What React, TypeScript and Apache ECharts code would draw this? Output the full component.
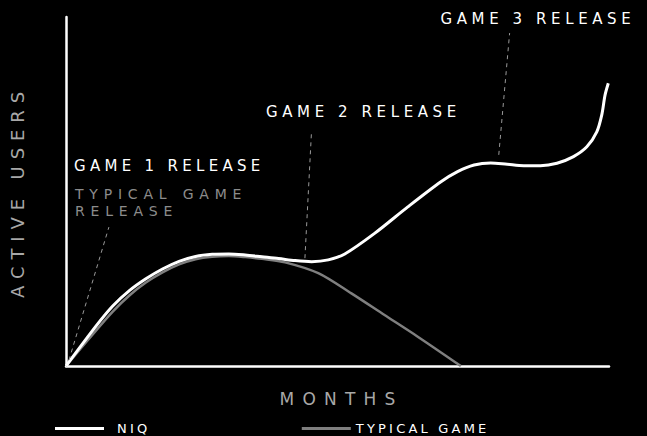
import React, { useEffect, useRef } from 'react';
import * as echarts from 'echarts';

// Data space: x = months (0..100 of the axis), y = active users (0..100 of the axis)
const niqX = [0, 5.55, 8.61, 11.67, 14.71, 17.77, 20.82, 23.86, 26.92, 29.98, 33.02, 36.08, 39.14, 42.18, 45.24, 48.3, 51.34, 56.83, 62.95, 69.05, 72.11, 75.15, 78.21, 81.26, 84.3, 87.36, 90.42, 93.46, 95.92, 97.75, 98.66, 99.27, 99.87];
const niqY = [0, 11.5, 17.2, 21.6, 25.0, 27.8, 30.0, 31.4, 32.0, 32.1, 31.8, 31.3, 30.8, 30.2, 29.9, 30.4, 32.1, 38.0, 45.6, 52.8, 55.7, 57.6, 58.2, 57.8, 57.4, 57.4, 58.1, 60.0, 62.8, 67.1, 71.9, 77.6, 81.0];
const typicalX = [0, 5.55, 8.61, 11.67, 14.71, 17.77, 20.82, 23.86, 26.92, 29.98, 33.02, 36.08, 40.35, 46.46, 52.56, 58.66, 64.78, 72.71];
const typicalY = [0, 10.2, 15.6, 20.2, 23.9, 26.8, 29.1, 30.6, 31.3, 31.5, 31.2, 30.7, 29.7, 26.6, 20.8, 14.6, 8.4, 0];

const seriesNames = ['NIQ', 'TYPICAL GAME'];
const axisNames = { x: 'MONTHS', y: 'ACTIVE USERS' };

// annotation leader lines: [x1, y1, x2, y2] in data space
const annotationLines = [
  [0.55, 1.7, 7.9, 39.8],
  [44.0, 30.9, 45.2, 66.8],
  [79.7, 60.5, 81.7, 95.4],
];
const annotationTexts = ['GAME 1 RELEASE', 'TYPICAL GAME', 'RELEASE', 'GAME 2 RELEASE', 'GAME 3 RELEASE'];

const FONT = "'DejaVu Sans', sans-serif";

export default function App() {
  const ref = useRef<HTMLDivElement>(null);

  useEffect(() => {
    const el = ref.current;
    if (!el) return;
    const chart = echarts.init(el, undefined, { renderer: 'svg' });

    const niqData = niqX.map((x, i) => [x, niqY[i]]);
    const typData = typicalX.map((x, i) => [x, typicalY[i]]);

    chart.setOption({
      animation: false,
      backgroundColor: '#000',
      grid: { left: 63, right: 38, top: 17, bottom: 70 },
      legend: {
        left: 55,
        top: 422,
        padding: 0,
        icon: 'rect',
        itemWidth: 49,
        itemHeight: 3,
        itemGap: 161,
        selectedMode: false,
        textStyle: { color: '#fff', fontSize: 13, fontFamily: FONT },
        data: [
          { name: seriesNames[0], textStyle: { padding: [0, 0, 0, 8] } },
          { name: seriesNames[1] },
        ],
      },
      xAxis: {
        type: 'value',
        min: 0,
        max: 100,
        axisLine: { show: true, lineStyle: { color: '#fff', width: 2.5 } },
        axisTick: { show: false },
        axisLabel: { show: false },
        splitLine: { show: false },
        name: axisNames.x,
        nameLocation: 'middle',
        nameGap: 24,
        nameTextStyle: { color: '#a8a8a8', fontSize: 17, fontFamily: FONT, padding: [0, 0, 0, 8] },
      },
      yAxis: {
        type: 'value',
        min: 0,
        max: 100,
        axisLine: { show: true, lineStyle: { color: '#fff', width: 2.5 } },
        axisTick: { show: false },
        axisLabel: { show: false },
        splitLine: { show: false },
        name: axisNames.y,
        nameLocation: 'middle',
        nameGap: 40,
        nameTextStyle: { color: '#a8a8a8', fontSize: 18, fontFamily: FONT },
      },
      series: [
        {
          name: seriesNames[1],
          type: 'line',
          data: typData,
          smooth: 0.3,
          symbol: 'none',
          showSymbol: false,
          color: '#7f7f7f',
          lineStyle: { color: '#7f7f7f', width: 2.5 },
          z: 2,
          markLine: {
            silent: true,
            symbol: ['none', 'none'],
            label: { show: false },
            lineStyle: { type: [4, 4], color: '#9a9a9a', width: 1 },
            data: annotationLines.map((l) => [
              { coord: [l[0], l[1]] },
              { coord: [l[2], l[3]] },
            ]),
          },
        },
        {
          name: seriesNames[0],
          type: 'line',
          data: niqData,
          smooth: 0.3,
          symbol: 'none',
          showSymbol: false,
          color: '#ffffff',
          lineStyle: { color: '#ffffff', width: 3 },
          z: 3,
        },
      ],
      graphic: [
        { type: 'text', x: 74, y: 166, style: { text: annotationTexts[0], fill: '#fff', fontSize: 15, fontFamily: FONT, verticalAlign: 'middle', align: 'left' } },
        { type: 'text', x: 75, y: 194, style: { text: annotationTexts[1], fill: '#8c8c8c', fontSize: 14, fontFamily: FONT, verticalAlign: 'middle', align: 'left' } },
        { type: 'text', x: 75, y: 211, style: { text: annotationTexts[2], fill: '#8c8c8c', fontSize: 14, fontFamily: FONT, verticalAlign: 'middle', align: 'left' } },
        { type: 'text', x: 266, y: 112, style: { text: annotationTexts[3], fill: '#fff', fontSize: 15, fontFamily: FONT, verticalAlign: 'middle', align: 'left' } },
        { type: 'text', x: 440.5, y: 19, style: { text: annotationTexts[4], fill: '#fff', fontSize: 15, fontFamily: FONT, verticalAlign: 'middle', align: 'left' } },
      ],
    });

    const applySpacing = () => {
      const root = ref.current;
      if (!root) return;
      const rootTop = root.getBoundingClientRect().top;
      root.querySelectorAll('text').forEach((t) => {
        const s = (t.textContent || '').trim();
        const top = t.getBoundingClientRect().top - rootTop;
        let ls = 0;
        if (top > 400) ls = 3.2;
        else if (s.startsWith('GAME')) ls = s.includes('1') ? 4.3 : 4.6;
        else if (s === 'TYPICAL GAME' || s === 'RELEASE') ls = 5.8;
        else if (s === 'MONTHS') ls = 8.2;
        else if (s === 'ACTIVE USERS') ls = 6.9;
        if (ls) t.setAttribute('letter-spacing', String(ls));
      });
    };
    applySpacing();
    chart.on('finished', applySpacing);
    const timer = window.setTimeout(applySpacing, 50);

    return () => {
      window.clearTimeout(timer);
      chart.dispose();
    };
  }, []);

  return (
    <div
      style={{ position: 'fixed', left: 0, top: 0, width: 647, height: 436, background: '#000' }}
    >
      <div ref={ref} style={{ width: 647, height: 436 }} />
    </div>
  );
}
